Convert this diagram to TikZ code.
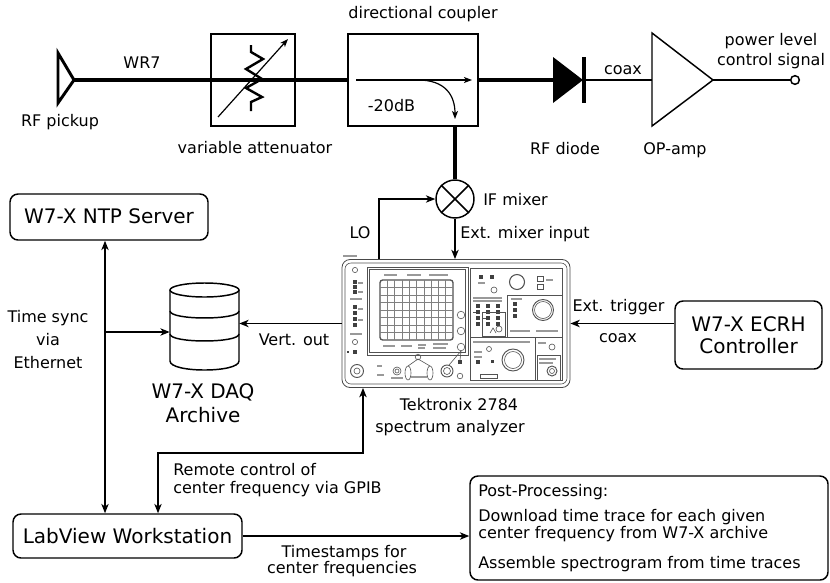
\documentclass[tikz,border=0pt]{standalone}
\usepackage{fontspec}
\setmainfont{DejaVu Sans}
\usetikzlibrary{arrows.meta,calc}

\begin{document}
\begin{tikzpicture}[x=0.75pt,y=-0.75pt,
  lbl/.style={font=\fontsize{12}{14}\selectfont, inner sep=0pt, anchor=base},
  lblw/.style={lbl, anchor=base west},
  thinln/.style={line width=1.1pt},
  thickln/.style={line width=2.5pt},
  tip/.style={-{Stealth[length=7pt,width=5.5pt,inset=2pt]}},
  arr/.style={thinln, tip},
  darr/.style={thinln, {Stealth[length=7pt,width=5.5pt,inset=2pt]}-{Stealth[length=7pt,width=5.5pt,inset=2pt]}},
  rbox/.style={draw, thinln, rounded corners=6pt, inner sep=0pt, font=\fontsize{15}{16.3}\selectfont, align=center},
  sbox/.style={draw, thinln, inner sep=0pt},
  panel/.style={draw=black!68, line width=0.45pt},
  ink/.style={fill=black!75},
  print/.style={draw=black!40, line width=0.9pt},
]
\useasboundingbox (0,0) rectangle (830,582);

% ---------------- RF front end ----------------
\coordinate (pk) at (74,80);
\draw[line width=2.2pt, line join=miter] (58,53) -- (pk) -- (58,103) -- cycle;
\node[lbl] (pklbl) at (60,126) {RF pickup};

\node[sbox, minimum width=63pt, minimum height=69pt] (att) at (253,80) {};
\node[sbox, minimum width=97.5pt, minimum height=69pt] (cpl) at (413,80) {};
\draw[thickln] (pk) -- (cpl.west);
\node[lbl] (wr7) at (142,68) {WR7};

% variable resistor symbol
\draw[line width=1.8pt, line join=miter] (251,45) -- (251,52) -- (263,59) -- (246,69) -- (262,79)
  -- (246,88) -- (262,97) -- (251,102) -- (251,111);
\draw[line width=0.9pt, -{Stealth[length=6pt,width=4.5pt,inset=1.5pt]}] (218,117) -- (288,39);
\node[lbl] (attlbl) at (255,153) {variable attenuator};

% directional coupler internals
\node[lbl] (cpllbl) at (423,18.5) {directional coupler};
\coordinate (cin) at (356,80);
\coordinate (cthru) at (472,80);
\coordinate (ccpl) at (455,119);
\draw[line width=0.9pt, -{Stealth[length=6pt,width=4.5pt,inset=1.5pt]}] (cin) -- (cthru);
\draw[line width=0.9pt, -{Stealth[length=6pt,width=4.5pt,inset=1.5pt]}] (418,80) .. controls (445,80) and (455,95) .. (ccpl);
\node[lbl] (db) at (391.5,111.5) {-20dB};

% RF diode
\coordinate (dA) at (553,80);
\coordinate (dK) at (584,80);
\draw[thickln] (cpl.east) -- (dA);
\fill (553,57) -- (583,80) -- (553,103) -- cycle;
\draw[line width=2.8pt] (584,57) -- (584,103);
\node[lbl] (diodelbl) at (565,154) {RF diode};

% op-amp
\coordinate (oaIn) at (652,80);
\coordinate (oaOut) at (713,80);
\draw[thinln, line join=miter] (652,33) -- (oaOut) -- (652,126) -- cycle;
\draw[thinln] (dK) -- (oaIn);
\node[lbl] (coax1) at (623,74) {coax};
\node[lbl] (oalbl) at (675,154) {OP-amp};
\node[circle, draw, thinln, minimum size=6.5pt, inner sep=0pt] (term) at (795,80) {};
\draw[thinln] (oaOut) -- (term.west);
\node[lbl] (pwr1) at (771,45) {power level};
\node[lbl] (pwr2) at (771,65) {control signal};

% IF mixer
\node[circle, draw, thinln, minimum size=28.5pt, inner sep=0pt] (mix) at (455,199) {};
\draw[thinln] (mix.45) -- (mix.225) (mix.135) -- (mix.315);
\draw[thickln] (mix.north |- cpl.south) -- (mix.north);
\node[lblw] (mixlbl) at (483,205) {IF mixer};

% ---------------- spectrum analyzer ----------------
\node[draw=black!72, line width=0.6pt, rounded corners=6pt, minimum width=171pt, minimum height=96pt, inner sep=0pt] (sa) at (456,323.5) {};
\begin{scope}[panel]
  \draw[print] (343,256) -- (357,256);
  \draw[rounded corners=4.5pt] (345,263) rectangle (567,384);
  % display bezel and graticule
  \draw (367,267) rectangle (468,355);
  \draw (369.5,269.5) rectangle (465.5,352.5);
  \draw[line width=1pt, rounded corners=2pt] (380,280) rectangle (453,340);
  \foreach \i in {1,...,9} \draw[draw=black!50, line width=0.35pt] (380+7.3*\i,280) -- (380+7.3*\i,340);
  \foreach \j in {1,...,7} \draw[draw=black!50, line width=0.35pt] (380,280+7.5*\j) -- (453,280+7.5*\j);
  \draw[print] (384,275) -- (397,275) (407,275) -- (421,275) (429,275) -- (448,275);
  \draw[print] (383,346) -- (395,346) (401,346) -- (412,346) (418,345) -- (426,345) (418,348) -- (425,348)
                (433,344) -- (448,344) (433,348) -- (446,348);
  \foreach \yy in {315,331,347} \draw (461,\yy) circle[radius=3.8];
  % left column of controls
  \draw (355,270) circle[radius=2.6];
  \foreach \yy in {280,285,290,305,311,317,323} \fill[ink] (352.5,\yy) rectangle +(4,3.5);
  \draw[print] (358,283) -- (363,283) (358,292) -- (363,292) (350,299) -- (362,299) (358,309) -- (363,309)
                (358,320) -- (363,320) (350,334) -- (362,334);
  \draw (355,342) circle[radius=2.6];
  \fill[ink] (353,350) rectangle +(4,4);
  \fill[ink] (347,351) rectangle +(2,2);
  % right-hand control panel
  \draw (470,268) rectangle (562,380);
  \draw (507,295) -- (562,295) (507,295) -- (507,337) (470,337) -- (562,337) (535,337) -- (535,380);
  \fill[ink] (479,275) rectangle +(4,4);
  \fill[ink] (490,275) rectangle +(4,4);
  \draw[print] (478,283) -- (485,283);
  \draw[line width=0.8pt] (517,282) circle[radius=7.5];
  \draw (537,276) rectangle (543,281) (537,284) rectangle (543,289);
  \draw[print] (546,280) -- (553,280);
  \draw (494,290) circle[radius=3];
  \draw[print] (473,298) -- (502,298) (473,301) -- (502,301);
  \foreach \xx in {476,486,496} \foreach \yy in {304,310,316,322} \fill[ink] (\xx,\yy) rectangle +(3.5,3.5);
  \draw (473,312) -- (476,312) (483,318) -- (486,318) (493,312) -- (496,312);
  \draw (482,312) rectangle (505,336);
  \draw (499,329) circle[radius=3];
  \draw (490,333) -- (493,328) -- (496,333);
  % frequency knob section
  \foreach \yy in {302,308,314} \fill[ink] (513,\yy) rectangle +(4,4);
  \draw[print] (511,299) -- (522,299);
  \draw[line width=0.7pt] (543,310) circle[radius=10.5];
  \draw (543,310) circle[radius=8.5];
  \draw[print] (510,331) -- (530,331) (536,331) -- (558,331);
  % span / bandwidth knob section
  \draw[print] (473,342) -- (530,342) (474,352) -- (482,352) (474,357) -- (482,357);
  \draw (489,349) circle[radius=2.5];
  \fill[ink] (476,360) rectangle +(4,4);
  \fill[ink] (491,360) rectangle +(3,3);
  \draw (480,374) rectangle (497,378);
  \draw[line width=0.7pt] (513,360) circle[radius=11];
  \draw (513,360) circle[radius=8.5];
  % power and input section
  \draw[print] (538,343) -- (546,343);
  \draw (552,347) circle[radius=3];
  \draw (537,355) rectangle (560,380);
  \draw[print] (539,359) -- (556,359) (539,363) -- (553,363);
  \draw[line width=0.7pt] (552,371) circle[radius=5];
  \draw (552,371) circle[radius=2.5];
  % bottom row of connectors
  \draw[line width=0.7pt] (357,371) circle[radius=6.5];
  \draw (357,371) circle[radius=3];
  \draw[print] (377,366) -- (382,366) (377,375) -- (384,375);
  \draw (397,371) circle[radius=4];
  \draw (397,371) circle[radius=2];
  \draw[print] (391,378) -- (403,378);
  \draw (408,373) ellipse[x radius=3, y radius=7];
  \draw (430,373) ellipse[x radius=3, y radius=7];
  \draw (408,366) -- (418,359) -- (430,366);
  \draw (418,357) circle[radius=2.8];
  \draw[print] (411,377) -- (427,377);
  \draw[line width=0.7pt] (447,371) circle[radius=6];
  \draw (447,371) circle[radius=3.5];
  \draw (461,351) -- (449,365) (461,351) -- (460,360);
  \fill[ink] (458,360) rectangle +(4,4);
  \draw (460,376) circle[radius=2.8];
\end{scope}
\node[lbl] (sa1) at (459,410) {Tektronix 2784};
\node[lbl] (sa2) at (450,432) {spectrum analyzer};

% LO and mixer connections
\coordinate (lox) at (379,0);
\draw[arr] (lox |- sa.north) |- (mix.west);
\node[lbl] (lolbl) at (360,238) {LO};
\draw[arr] (mix.south) -- (mix.south |- sa.north);
\node[lblw] (extmix) at (460,238) {Ext. mixer input};

% ---------------- ECRH controller ----------------
\node[rbox, minimum width=110.25pt, minimum height=51pt] (ecrh) at (748.5,335) {W7-X ECRH\\Controller};
\draw[arr] (ecrh.west |- sa.east) -- (sa.east);
\node[lbl] (trig) at (618.5,311) {Ext. trigger};
\node[lbl] (coax2) at (618,342) {coax};

% ---------------- DAQ archive ----------------
\node[minimum width=51.75pt, minimum height=65.25pt, inner sep=0pt] (daq) at (204.5,326.5) {};
\filldraw[thinln, fill=white] (170,290) -- (170,361) .. controls (170,373) and (239,373) .. (239,361) -- (239,290);
\draw[thinln] (204.5,290) ellipse[x radius=34.5, y radius=7];
\draw[thinln] (170,311) .. controls (170,320.3) and (239,320.3) .. (239,311);
\draw[thinln] (170,334) .. controls (170,343.3) and (239,343.3) .. (239,334);
\node[font=\fontsize{15}{16}\selectfont, inner sep=0pt, anchor=base] (daq1) at (203,398) {W7-X DAQ};
\node[font=\fontsize{15}{16}\selectfont, inner sep=0pt, anchor=base] (daq2) at (203,422) {Archive};
\draw[arr] (sa.west) -- (daq.east |- sa.west);
\node[lbl] (vout) at (294,345) {Vert. out};

% ---------------- NTP server and workstation ----------------
\node[rbox, minimum width=148.5pt, minimum height=34.5pt, text height=11pt, text depth=2pt] (ntp) at (109,217) {W7-X NTP Server};
\node[rbox, minimum width=171.75pt, minimum height=33pt, text height=11pt, text depth=0.5pt] (lab) at (127.5,536) {LabView Workstation};
\coordinate (bus) at (105,332);
\draw[darr] (bus |- ntp.south) -- (bus |- lab.north);
\draw[arr] (bus) -- (daq.west |- bus);
\node[lbl] (ts1) at (48,322) {Time sync};
\node[lbl] (ts2) at (48,345) {via};
\node[lbl] (ts3) at (48,368) {Ethernet};

% GPIB remote control
\coordinate (gpA) at (363,453);
\coordinate (gpB) at (158,453);
\draw[darr] (gpA |- sa.south) -- (gpA) -- (gpB) -- (gpB |- lab.north);
\node[lblw] (gp1) at (173,475) {Remote control of};
\node[lblw] (gp2) at (173,493.5) {center frequency via GPIB};

% ---------------- post-processing ----------------
\node[draw, thinln, rounded corners=6pt, minimum width=268.5pt, minimum height=78pt, inner sep=0pt] (post) at (649,528) {};
\draw[arr] (lab.east) -- (post.west |- lab.east);
\node[lbl] (tsf1) at (344,557) {Timestamps for};
\node[lbl] (tsf2) at (342,573) {center frequencies};
\node[lblw] (pp1) at (478,496.5) {Post-Processing:};
\node[lblw] (pp2) at (478,521.5) {Download time trace for each given};
\node[lblw] (pp3) at (478,538) {center frequency from W7-X archive};
\node[lblw] (pp4) at (478,568) {Assemble spectrogram from time traces};
\end{tikzpicture}
\end{document}
